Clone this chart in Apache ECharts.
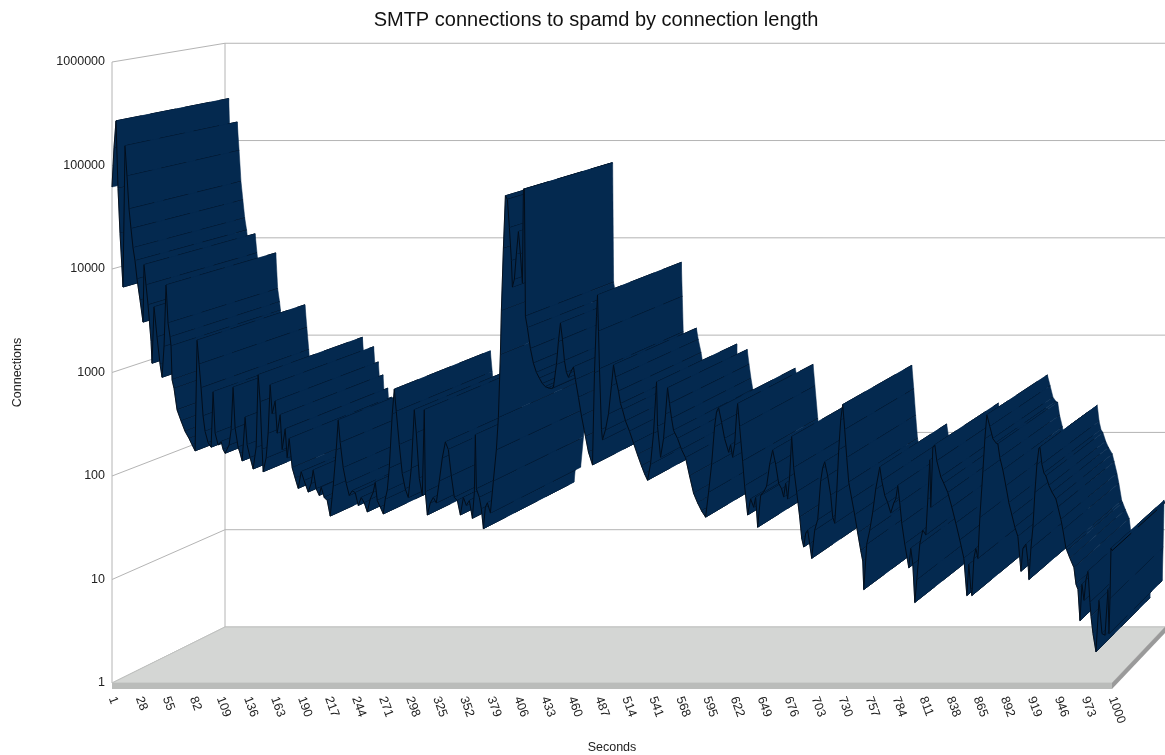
<!DOCTYPE html>
<html><head><meta charset="utf-8">
<style>html,body{margin:0;padding:0;background:#fff}#c{width:1165px;height:755px}</style>
<script src="https://cdn.jsdelivr.net/npm/echarts@6/dist/echarts.min.js"></script>
</head><body><div id="c"></div>
<script>
const chartTitle = "SMTP connections to spamd by connection length";
const xName = "Seconds";
const yName = "Connections";
const yDecades = [1, 10, 100, 1000, 10000, 100000, 1000000];
const seconds = [1,3,5,7,9,12,14,16,18,20,22,24,26,29,32,33,35,37,40,41,43,46,49,51,53,55,57,59,60,61,63,66,70,74,78,81,84,86,88,90,92,94,97,100,102,104,107,110,112,114,118,120,122,124,127,129,131,134,136,139,142,145,147,149,151,152,155,157,159,161,164,166,169,171,174,176,178,181,184,187,
190,193,197,200,202,205,208,210,213,216,219,222,225,227,229,232,235,238,241,244,247,250,253,256,259,262,264,266,269,272,274,276,278,281,283,285,288,291,294,297,300,303,305,308,311,313,314,316,319,322,325,328,331,334,337,340,343,346,349,352,355,358,361,363,364,365,368,370,372,374,376,379,382,385,387,389,390,392,394,396,398,400,401,403,405,407,409,411,412,413,414,416,419,422,425,428,431,434,437,440,442,445,447,449,451,453,455,457,459,462,464,467,470,474,477,481,483,485,486,487,488,490,491,494,497,500,502,504,507,509,511,514,518,522,526,530,533,536,539,542,545,546,549,552,554,556,558,560,562,566,570,574,578,582,586,590,594,597,600,603,605,607,610,613,617,619,621,623,625,626,628,631,633,636,639,642,644,646,649,652,655,658,661,664,667,670,672,674,676,678,680,682,685,688,690,692,694,696,698,700,703,706,709,711,713,716,719,721,723,725,727,729,731,733,735,737,740,743,746,749,751,752,755,758,761,764,768,770,773,776,779,782,784,786,788,790,793,797,799,801,803,805,808,811,814,816,818,819,821,823,825,829,832,836,840,844,848,852,855,857,859,860,862,864,866,868,871,873,875,878,881,884,886,888,891,894,897,900,903,906,909,911,914,916,917,919,921,923,925,927,928,930,932,934,937,940,944,946,949,951,954,955,958,962,964,966,968,970,972,974,976,978,979,981,984,987,990,993,996,997,998,999,1000];
const connections = [62000,150000,270000,60000,22000,6700,155000,79000,38000,24500,16000,12000,8000,5000,3070,11000,7000,4500,2000,1230,4300,2200,1200,900,1800,7000,3000,2200,1800,850,700,435,340,270,230,200,175,2050,1200,710,380,270,210,190,650,260,200,215,180,166,200,280,720,290,190,165,140,370,200,150,117,190,950,520,180,110,150,260,760,400,530,260,390,180,285,150,230,120,95,76,
110,90,70,85,114,75,65,78,62,58,41,80,180,347,210,120,85,65,72,69,52,62,55,45,60,70,87,58,50,43,60,73,120,400,690,420,200,105,75,62,120,436,260,95,65,436,70,42,55,62,55,90,150,213,180,100,62,58,42,62,52,58,39,70,250,75,62,48,31,50,55,44,90,180,370,1500,4000,16000,51000,47000,25000,12000,6700,8000,14000,23000,14000,7300,59000,59000,3500,2700,1700,1230,1000,880,780,730,710,700,720,1200,2000,3000,2100,1300,1000,900,1000,1130,850,575,380,240,170,128,1000,3500,5600,2500,1080,280,224,280,400,750,1180,900,660,500,436,340,270,208,160,125,105,91,130,260,810,300,152,230,400,710,500,360,276,230,180,150,100,68,55,46,40,70,130,300,420,456,330,230,170,200,152,200,400,500,300,139,80,42,60,50,62,32,65,70,80,130,178,130,85,75,63,85,60,100,240,120,70,40,25,20.6,28,30,22,16,30,38,90,120,137,100,65,40,35,70,180,350,490,280,150,87,60,42,28,19,15,8,22,30,45,75,122,90,65,55,44,55,60,81,55,35,22,13,20,14,6,10,22,30,27,60,143,50,190,200,140,98,85,69,50,35,24,16,7,14,8,7,16,20,16,40,110,230,390,300,230,209,204,150,114,80,55,42,32,26,12,20,22,15,10,20,32,70,130,186,190,130,107,100,81,70,60,50,38,30,20,19,16,13,9,8,4,9,6.3,10,12,6,4.4,3,2,6.3,3,2.9,8,3,6.6,20,19];

const categories = [];
for (let s = 1; s <= 1000; s++) categories.push(String(s));

const DEPTH_X = 113, DEPTH_Y = -56, SHRINK = 0.94;
const WALL = '#b4b4b4';
const FONT = 'Liberation Sans';
function toBack(api, p) {
  const o = api.coord([0, 1]);
  return [o[0] + DEPTH_X + (p[0] - o[0]) * SHRINK, o[1] + DEPTH_Y + (p[1] - o[1]) * SHRINK];
}
const segments = [];
for (let i = 0; i < seconds.length - 1; i++) {
  segments.push([seconds[i] - 1, connections[i], seconds[i + 1] - 1, connections[i + 1]]);
}
const option = {
  animation: false,
  backgroundColor: '#fff',
  title: {text: chartTitle, left: 591, top: 5, textAlign: 'center',
    textStyle: {fontFamily: FONT, fontSize: 20, fontWeight: 'normal', color: '#111'}},
  grid: {left: 112, top: 62, width: 1000, height: 621, containLabel: false, outerBoundsMode: 'none'},
  xAxis: {type: 'category', data: categories, boundaryGap: false, name: xName, nameLocation: 'middle', nameGap: 58,
    nameTextStyle: {fontFamily: FONT, fontSize: 12.5, color: '#222'},
    axisLine: {show: false}, axisTick: {show: false}, splitLine: {show: false},
    axisLabel: {interval: 26, rotate: -70, margin: 14, showMinLabel: true, showMaxLabel: true,
      hideOverlap: false, fontFamily: FONT, fontSize: 12.5, color: '#222'}},
  yAxis: {type: 'log', logBase: 10, min: 1, max: 1000000, name: yName, nameLocation: 'middle', nameGap: 88,
    nameTextStyle: {fontFamily: FONT, fontSize: 12.5, color: '#222'},
    axisLine: {show: false}, axisTick: {show: false}, splitLine: {show: false},
    axisLabel: {margin: 7, fontFamily: FONT, fontSize: 12.5, color: '#222', formatter: function (v) { return String(Math.round(v)); }}},
  series: [
    {type: 'custom', silent: true, z: 1, clip: false, data: [[0]], coordinateSystem: 'cartesian2d',
      encode: {x: 0},
      renderItem: function (params, api) {
        const kids = [];
        const line = (a, b) => ({type: 'line', shape: {x1: a[0], y1: a[1], x2: b[0], y2: b[1]}, style: {stroke: WALL, lineWidth: 1}});
        const lastIdx = categories.length - 1;
        const fl = api.coord([0, 1]), fr = api.coord([lastIdx, 1]);
        const bl = toBack(api, fl), br = toBack(api, fr);
        yDecades.forEach(function (d) {
          const a = api.coord([0, d]), b = toBack(api, a), c = toBack(api, api.coord([lastIdx, d]));
          kids.push(line(a, b));
          kids.push(line(b, c));
        });
        kids.push(line(api.coord([0, 1]), api.coord([0, 1000000])));
        kids.push(line(bl, toBack(api, api.coord([0, 1000000]))));
        kids.push({type: 'polygon', shape: {points: [fl, fr, br, bl]}, style: {fill: '#d4d6d4', stroke: '#c0c2c0', lineWidth: 1}});
        kids.push({type: 'polygon', shape: {points: [fl, fr, [fr[0], fr[1] + 6], [fl[0], fl[1] + 6]]}, style: {fill: '#babcba'}});
        kids.push({type: 'polygon', shape: {points: [fr, br, [br[0], br[1] + 6], [fr[0], fr[1] + 6]]}, style: {fill: '#9a9a9a'}});
        return {type: 'group', children: kids};
      }},
    {type: 'custom', silent: true, z: 2, clip: false, coordinateSystem: 'cartesian2d', data: segments,
      encode: {x: [0, 2], y: [1, 3]},
      renderItem: function (params, api) {
        const a = api.coord([api.value(0), api.value(1)]);
        const b = api.coord([api.value(2), api.value(3)]);
        const ab = toBack(api, a), bb = toBack(api, b);
        return {type: 'group', children: [
          {type: 'polygon', shape: {points: [a, b, bb, ab]}, style: {fill: '#04294f', stroke: '#04294f', lineWidth: 0.5}},
          {type: 'line', shape: {x1: b[0], y1: b[1], x2: bb[0], y2: bb[1]}, style: {stroke: '#020a14', lineWidth: 1, lineDash: [26, 9]}},
          {type: 'line', shape: {x1: a[0], y1: a[1], x2: b[0], y2: b[1]}, style: {stroke: '#020a14', lineWidth: 0.9}}
        ]};
      }}
  ]
};
const chart = echarts.init(document.getElementById('c'), null, {renderer: 'canvas', width: 1165, height: 755});
chart.setOption(option);
</script></body></html>
